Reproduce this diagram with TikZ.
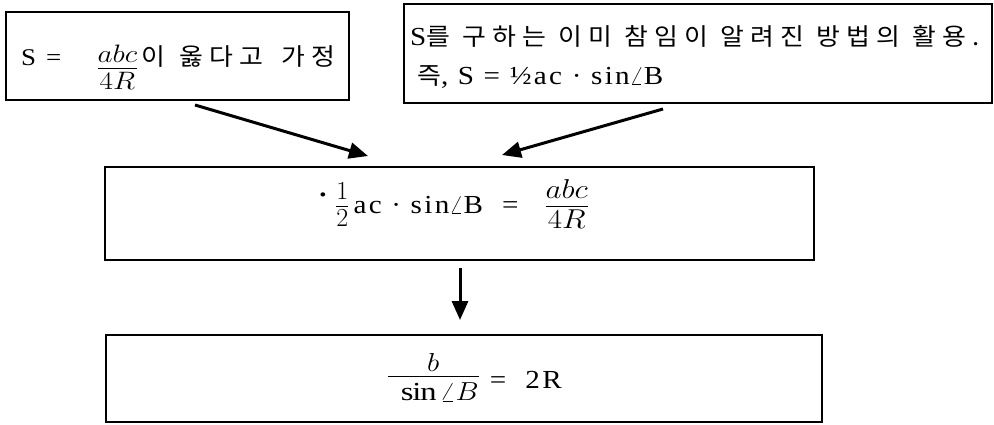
\RequirePackage{fix-cm}
\documentclass[tikz,border=0pt]{standalone}
\usepackage{amsmath}
\usepackage{fontspec}
\setmainfont{Liberation Serif}[FakeStretch=1.12,LetterSpace=9]
\newfontfamily\kofont{Noto Sans CJK KR}[FakeStretch=1.08,LetterSpace=26]
\newcommand\ko{\kofont\fontsize{24}{28}\selectfont}
\newcommand\fr[2]{\dfrac{\raisebox{-4pt}{$#1$}}{\raisebox{4pt}{$#2$}}}
\usetikzlibrary{arrows.meta}
\begin{document}
\begin{tikzpicture}[x=1pt,y=-1pt,
  box/.style={draw, line width=1.8pt, inner sep=0pt},
  arr/.style={line width=3pt, -{Triangle[length=19pt,width=16pt]}},
  txt/.style={inner sep=0pt, anchor=base west, font=\fontsize{26}{30}\selectfont}]
\useasboundingbox (0,0) rectangle (994,424);
% boxes
\node[box, minimum width=343pt, minimum height=88pt] (b1) at (177.5,56) {};
\node[box, minimum width=588pt, minimum height=99pt] (b2) at (698,53.5) {};
\node[box, minimum width=709pt, minimum height=93pt] (b3) at (459.5,213.5) {};
\node[box, minimum width=716pt, minimum height=87pt] (b4) at (464,378.5) {};
% texts
\node[txt, font=\fontsize{24}{28}\selectfont] (t1) at (21,65)
  {S\hspace{1pt} = \hspace{26pt}\raisebox{-10pt}{\scalebox{1.22}[1.05]{$\fr{abc}{4R}$}}\hspace{3pt}{\ko 이\hspace{2pt} 옳다고\hspace{6pt} 가정}};
\node[txt] (t2a) at (410,45) {S{\ko 를 구하는 이미 참임이 알려진 방법의 활용.}};
\node[txt] (t2b) at (417,84) {{\ko 즉}, S = ½ac · sin$\angle$B};
\node[txt] (t3) at (318,213)
  {\raisebox{10pt}{\textbf{·}}\hspace{5pt}$\fr{1}{2}$\hspace{4pt}ac · sin$\angle$B \ = \hspace{16pt}\scalebox{1.2}[1.05]{$\fr{abc}{4R}$}};
\node[txt] (t4) at (386,388)
  {\raisebox{5pt}{\scalebox{1.12}[1]{$\dfrac{\raisebox{-6pt}{$b$}}{\hspace{12pt}\sin\angle B}$}} = \ 2R};
% arrows
\coordinate (a1s) at (195,105);
\coordinate (a1e) at (368,156);
\coordinate (a2s) at (663,109);
\coordinate (a2e) at (502,155);
\coordinate (a3s) at (460,268);
\coordinate (a3e) at (460,320);
\draw[arr] (a1s) -- (a1e);
\draw[arr] (a2s) -- (a2e);
\draw[arr] (a3s) -- (a3e);
\end{tikzpicture}
\end{document}
